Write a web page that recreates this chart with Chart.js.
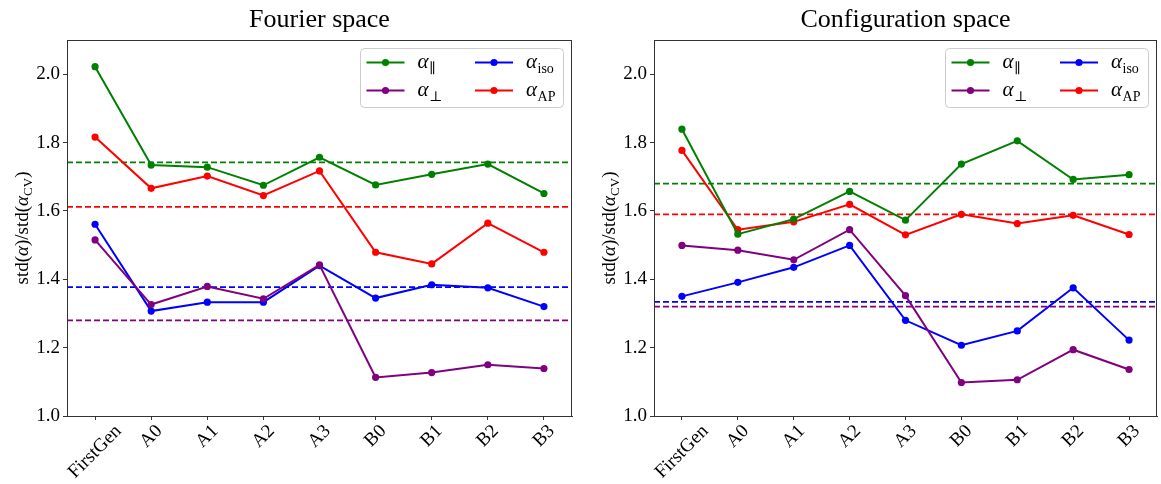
<!DOCTYPE html>
<html><head><meta charset="utf-8">
<script src="https://cdn.jsdelivr.net/npm/chart.js@4"></script>
<style>
html,body{margin:0;padding:0;background:#fff;}
#wrap{position:relative;width:1161px;height:484px;overflow:hidden;}
.c{position:absolute;top:0;height:484px;}
</style></head><body>
<div id="wrap">
<div class="c" style="left:0;width:580px"><canvas id="c1"></canvas></div>
<div class="c" style="left:587px;width:574px"><canvas id="c2"></canvas></div>
</div>
<script>
// ---- data ----
const categories = ['FirstGen','A0','A1','A2','A3','B0','B1','B2','B3'];
const yTicks = [1.0,1.2,1.4,1.6,1.8,2.0];
const titles = ['Fourier space','Configuration space'];

const fourierPar  = [2.022,1.734,1.728,1.675,1.757,1.676,1.707,1.737,1.651];
const fourierPerp = [1.515,1.326,1.379,1.343,1.442,1.113,1.127,1.150,1.139];
const fourierIso  = [1.561,1.307,1.333,1.333,1.440,1.345,1.384,1.375,1.320];
const fourierAP   = [1.816,1.666,1.702,1.645,1.717,1.479,1.445,1.564,1.479];
const fourierMeans = [1.742,1.280,1.377,1.612]; // par, perp, iso, AP

const configPar  = [1.839,1.532,1.576,1.657,1.573,1.737,1.805,1.692,1.706];
const configPerp = [1.499,1.485,1.457,1.545,1.352,1.098,1.106,1.194,1.136];
const configIso  = [1.350,1.391,1.435,1.499,1.280,1.207,1.249,1.375,1.222];
const configAP   = [1.777,1.545,1.568,1.619,1.530,1.590,1.563,1.587,1.531];
const configMeans = [1.680,1.320,1.334,1.590];

const seriesColors = ['#008000','#800080','#0000ff','#ff0000'];
const seriesSubs = ['\u2225','\u22A5','iso','AP'];

const SERIF = '"Liberation Serif","DejaVu Serif",serif';
const AXC = '#333';

function makeChart(id, dataArrs, means, title){
  const datasets = dataArrs.map((d,i)=>({
    label: 'alpha_'+seriesSubs[i],
    data: d,
    borderColor: seriesColors[i],
    backgroundColor: seriesColors[i],
    pointBackgroundColor: seriesColors[i],
    pointBorderWidth: 0,
    pointRadius: 3.6,
    borderWidth: 2,
    tension: 0
  }));
  const deco = {
    id:'deco'+id,
    beforeDatasetsDraw(chart){
      const ctx = chart.ctx, a = chart.chartArea, ys = chart.scales.y;
      ctx.save();
      ctx.lineWidth = 1.8;
      ctx.setLineDash([6,3]);
      means.forEach((m,i)=>{
        const y = ys.getPixelForValue(m);
        ctx.strokeStyle = seriesColors[i];
        ctx.beginPath(); ctx.moveTo(a.left,y); ctx.lineTo(a.right,y); ctx.stroke();
      });
      ctx.restore();
    },
    afterDraw(chart){
      const ctx = chart.ctx, a = chart.chartArea, xs = chart.scales.x;
      ctx.save();
      // frame
      ctx.strokeStyle = AXC; ctx.lineWidth = 1;
      ctx.strokeRect(a.left+0.5, a.top+0.5, a.right-a.left-1, a.bottom-a.top);
      // title
      ctx.fillStyle = '#000';
      ctx.font = '26px '+SERIF;
      ctx.textAlign = 'center'; ctx.textBaseline = 'alphabetic';
      ctx.fillText(title, (a.left+a.right)/2, 27);
      // x tick labels (centered rotated bbox, like matplotlib)
      ctx.font = '19px '+SERIF;
      ctx.textAlign = 'center'; ctx.textBaseline = 'middle';
      categories.forEach((c,i)=>{
        const x = xs.getPixelForValue(i);
        const w = ctx.measureText(c).width, fh = 15;
        const H = (w+fh)*Math.SQRT1_2;
        ctx.save();
        ctx.translate(x, a.bottom + 7 + H/2);
        ctx.rotate(-Math.PI/4);
        ctx.fillText(c, 0, 0);
        ctx.restore();
      });
      // y label
      const parts = [
        ['std(', '19px '+SERIF, 0],
        ['\u03B1', 'italic 19px '+SERIF, 0],
        [')/std(', '19px '+SERIF, 0],
        ['\u03B1', 'italic 19px '+SERIF, 0],
        ['CV', '13px '+SERIF, 4],
        [')', '19px '+SERIF, 0]
      ];
      let tw = 0;
      parts.forEach(p=>{ctx.font=p[1]; p.push(ctx.measureText(p[0]).width); tw+=p[3];});
      ctx.save();
      ctx.translate(28, (a.top+a.bottom)/2);
      ctx.rotate(-Math.PI/2);
      ctx.textAlign='left'; ctx.textBaseline='alphabetic';
      let px = -tw/2;
      parts.forEach(p=>{ctx.font=p[1]; ctx.fillText(p[0], px, p[2]); px+=p[3];});
      ctx.restore();
      // legend
      const bw = 203, bh = 59;
      const bl = a.right - 9 - bw, bt = a.top + 8;
      ctx.beginPath();
      if (ctx.roundRect) ctx.roundRect(bl+0.5, bt+0.5, bw, bh, 4); else ctx.rect(bl+0.5,bt+0.5,bw,bh);
      ctx.fillStyle = 'rgba(255,255,255,0.8)'; ctx.fill();
      ctx.strokeStyle = '#cccccc'; ctx.lineWidth = 1; ctx.stroke();
      const cols = [6.5, 115], rows = [14.5, 42.5];
      const order = [[0,0],[1,0],[0,1],[1,1]]; // [row,col] for series 0..3 (column-major)
      for (let i=0;i<4;i++){
        const r = order[i][0], cc = order[i][1];
        const lx = bl + cols[cc], ly = bt + rows[r];
        ctx.strokeStyle = seriesColors[i]; ctx.lineWidth = 2;
        ctx.beginPath(); ctx.moveTo(lx, ly); ctx.lineTo(lx+38, ly); ctx.stroke();
        ctx.fillStyle = seriesColors[i];
        ctx.beginPath(); ctx.arc(lx+19, ly, 3.6, 0, Math.PI*2); ctx.fill();
        ctx.fillStyle = '#000';
        ctx.textAlign='left'; ctx.textBaseline='alphabetic';
        ctx.font = 'italic 21px '+SERIF;
        const tx = lx + 51;
        ctx.fillText('\u03B1', tx, ly+5);
        const aw = ctx.measureText('\u03B1').width;
        ctx.font = '14px '+SERIF;
        ctx.fillText(seriesSubs[i], tx+aw+0.5, ly+10);
      }
      ctx.restore();
    }
  };
  return new Chart(document.getElementById(id), {
    type:'line',
    data:{labels:categories, datasets},
    options:{
      responsive:true, maintainAspectRatio:false, animation:false,
      layout:{padding:{left:0,right:id==='c1'?8:3,top:40,bottom:0}},
      plugins:{legend:{display:false}, title:{display:false}, tooltip:{enabled:false}},
      scales:{
        x:{
          type:'category', offset:true,
          grid:{display:true, drawOnChartArea:false, drawTicks:true, tickLength:4, color:AXC},
          border:{display:true, color:AXC, width:1},
          ticks:{display:false},
          afterFit(s){ s.height = 68; }
        },
        y:{
          min:1.0, max:2.1,
          afterBuildTicks(s){ s.ticks = yTicks.map(v=>({value:v})); },
          grid:{display:true, drawOnChartArea:false, drawTicks:true, tickLength:4, color:AXC},
          border:{display:true, color:AXC, width:1},
          ticks:{color:'#000', font:{family:SERIF, size:19}, padding:3, callback:v=>Number(v).toFixed(1)},
          afterFit(s){ s.width = 67; }
        }
      }
    },
    plugins:[deco]
  });
}
makeChart('c1', [fourierPar,fourierPerp,fourierIso,fourierAP], fourierMeans, titles[0]);
makeChart('c2', [configPar,configPerp,configIso,configAP], configMeans, titles[1]);
</script>
</body></html>
